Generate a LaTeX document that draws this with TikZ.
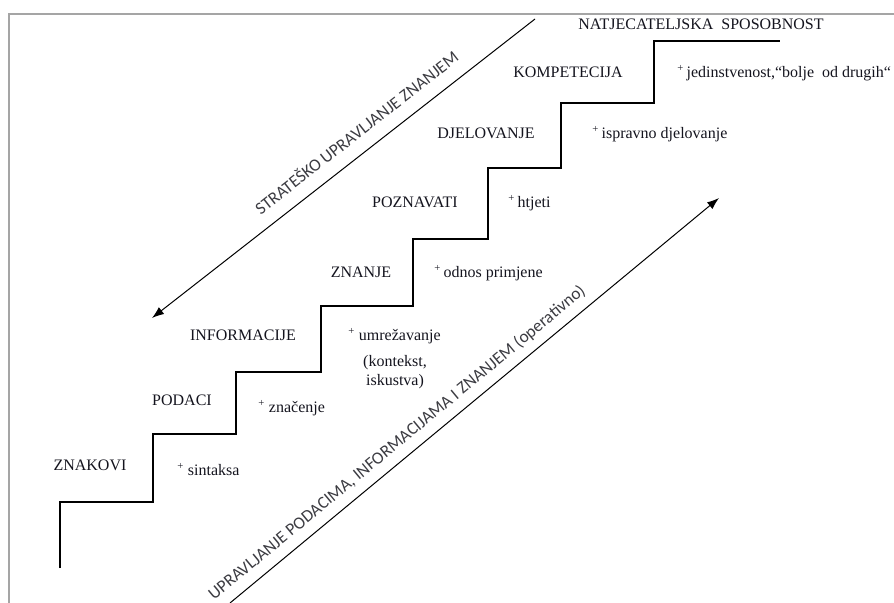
\documentclass[tikz,border=0pt]{standalone}
\usepackage{fontspec}
\setmainfont{Liberation Serif}
\newfontfamily\carlitofont{Carlito}
\usetikzlibrary{arrows.meta}
\definecolor{framecol}{RGB}{165,165,165}
\definecolor{sanscol}{RGB}{60,60,66}
\definecolor{serifcol}{RGB}{20,20,30}
\begin{document}
\begin{tikzpicture}[x=0.75pt,y=-0.75pt,
  lbl/.style={inner sep=0pt, anchor=base, text=serifcol, font=\fontsize{12}{14}\selectfont},
  note/.style={inner sep=0pt, anchor=base west, text=serifcol, font=\fontsize{12}{14}\selectfont},
  slant/.style={inner sep=0pt, text=sanscol, font=\carlitofont\fontsize{13}{15}\selectfont},
  arr/.style={line width=0.75pt, -{Latex[length=9pt,width=6.5pt]}},
  stair/.style={line width=0.8pt, line join=miter},
  frame/.style={line width=1.5pt, draw=framecol}]
\useasboundingbox (0,0) rectangle (894,603);
% frame
\draw[frame] (8.5,603) -- (8.5,13.5) -- (894,13.5);
% staircase
\draw[stair] (60,568) -- (60,502) -- (153,502) -- (153,434) -- (236,434)
  -- (236,372) -- (321,372) -- (321,306) -- (413,306) -- (413,239)
  -- (488,239) -- (488,168) -- (561,168) -- (561,103) -- (654,103)
  -- (654,41) -- (780,41);
% step labels
\node[lbl] (znakovi) at (90,470) {ZNAKOVI};
\node[lbl] (podaci) at (182,405.5) {PODACI};
\node[lbl] (informacije) at (243,340.5) {INFORMACIJE};
\node[lbl] (znanje) at (361,277.5) {ZNANJE};
\node[lbl] (poznavati) at (415,207.5) {POZNAVATI};
\node[lbl] (djelovanje) at (486,138.5) {DJELOVANJE};
\node[lbl] (kompetecija) at (568,77.5) {KOMPETECIJA};
\node[lbl] (natjec) at (701,29.5) {NATJECATELJSKA\ \ SPOSOBNOST};
% additions
\node[note] (sintaksa) at (177,475.5) {\textsuperscript{+} sintaksa};
\node[note] (znacenje) at (258,412.5) {\textsuperscript{+} značenje};
\node[note] (umrez) at (348,340.5) {\textsuperscript{+} umrežavanje};
\node[lbl] (kontekst) at (395,366.5) {(kontekst,};
\node[lbl] (iskustva) at (395,385.5) {iskustva)};
\node[note] (odnos) at (434,277.5) {\textsuperscript{+}\,odnos primjene};
\node[note] (htjeti) at (508,207.5) {\textsuperscript{+}\,htjeti};
\node[note] (ispravno) at (592,138.5) {\textsuperscript{+}\,ispravno djelovanje};
\node[note] (jedinstv) at (677,77.5) {\textsuperscript{+}\,jedinstvenost,“bolje\ \ od drugih“};
% arrows
\coordinate (s1) at (535,19);
\coordinate (s2) at (152,318);
\draw[arr] (s1) -- (s2);
\coordinate (o1) at (230,603);
\coordinate (o2) at (719,198);
\draw[arr] (o1) -- (o2);
% slanted texts
\node[slant, rotate=38] (strat) at (356,132) {STRATEŠKO UPRAVLJANJE ZNANJEM};
\node[slant, rotate=39.6] (oper) at (397,443) {UPRAVLJANJE PODACIMA, INFORMACIJAMA I ZNANJEM (operativno)};
\end{tikzpicture}
\end{document}
